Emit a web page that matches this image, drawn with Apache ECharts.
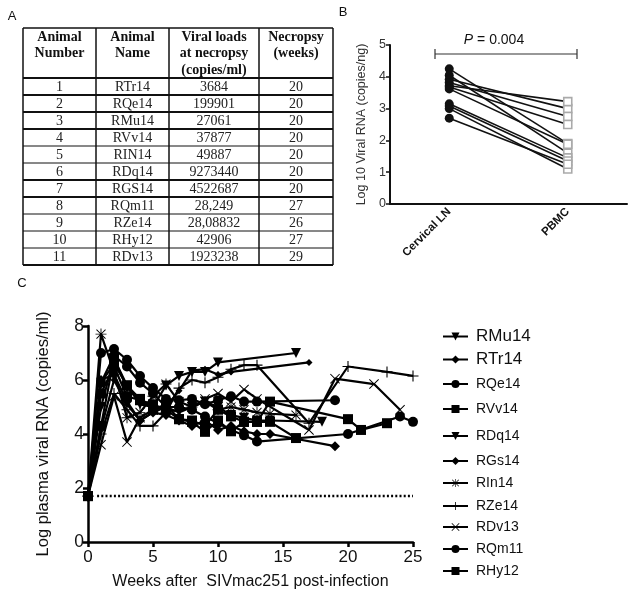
<!DOCTYPE html>
<html><head><meta charset="utf-8">
<script src="https://cdn.jsdelivr.net/npm/echarts@6/dist/echarts.min.js"></script>
<style>html,body{margin:0;padding:0;background:#fff}#c{width:635px;height:596px}</style>
</head><body><div id="c"></div>
<script>
// ---------- Panel A: table ----------
const tableHeader = [['Animal','Number'],['Animal','Name'],['Viral loads','at necropsy','(copies/ml)'],['Necropsy','(weeks)']];
const animalNumbers = ['1','2','3','4','5','6','7','8','9','10','11'];
const animalNames = ['RTr14','RQe14','RMu14','RVv14','RIN14','RDq14','RGS14','RQm11','RZe14','RHy12','RDv13'];
const viralLoads = ['3684','199901','27061','37877','49887','9273440','4522687','28,249','28,08832','42906','1923238'];
const necropsyWeeks = ['20','20','20','20','20','20','20','27','26','27','29'];

// ---------- Panel B ----------
const groups = ['Cervical LN','PBMC'];
const lnValues   = [4.25,4.05,3.92,3.82,3.72,3.68,3.62,3.15,3.08,3.00,2.70];
const pbmcValues = [1.90,1.60,3.00,2.75,3.22,2.50,1.88,1.45,1.35,1.10,1.25];
const pLabel = '0.004';

// ---------- Panel C ----------
const weeks = [0,1,2,3,4,5,6,7,8,9,10,11,12,13,14,16,17,18,19,20,21,22,23,24,25];
const _ = null;
const RMu14 = [1.7,5.0,6.8,5.7,5.3,5.0,5.8,6.15,6.3,6.3,6.65,_,_,_,_,7.0,_,_,_,_,_,_,_,_,_];
const RTr14 = [1.7,4.2,6.0,5.1,4.5,4.8,5.0,5.6,6.35,6.4,6.2,6.3,_,_,_,_,6.65,_,_,_,_,_,_,_,_];
const RQe14 = [1.7,7.0,7.15,6.75,6.15,5.7,5.3,5.25,5.3,5.1,5.25,5.4,5.2,5.2,_,_,_,_,5.25,_,_,_,_,_,_];
const RVv14 = [1.7,5.5,6.5,5.4,5.25,5.1,4.9,4.55,4.45,4.08,4.5,4.1,4.45,4.45,4.45,3.85,_,_,_,_,_,_,_,_,_];
const RDq14 = [1.7,5.9,6.6,5.8,5.1,5.0,4.9,4.85,5.0,5.2,5.0,4.7,4.6,4.5,4.5,_,_,4.45,_,_,_,_,_,_,_];
const RGs14 = [1.7,6.0,6.2,5.2,4.5,4.8,4.7,4.5,4.3,4.5,4.15,4.3,4.1,4.0,4.0,_,_,_,3.55,_,_,_,_,_,_];
const RIn14 = [1.7,7.7,6.3,4.6,4.8,5.4,5.85,5.2,5.0,5.2,4.9,5.0,4.9,4.8,4.75,4.7,_,_,_,_,_,_,_,_,_];
const RZe14 = [1.7,4.0,5.5,4.9,4.3,4.3,4.8,5.7,6.0,5.9,6.1,6.4,6.55,6.55,_,_,4.4,_,_,6.5,_,_,6.3,_,6.15];
const RDv13 = [1.7,3.6,5.4,3.7,4.6,4.9,5.0,4.8,5.0,5.3,5.5,5.2,5.65,5.3,_,_,4.15,_,6.05,_,_,5.85,_,4.9,_];
const RQm11 = [1.7,5.9,6.9,6.5,5.9,5.5,5.0,5.0,4.9,4.65,4.4,4.15,3.95,3.72,_,_,_,_,_,4.0,_,_,_,4.65,4.45];
const RHy12 = [1.7,4.3,6.8,5.8,5.3,4.9,5.1,4.55,4.5,4.3,4.9,4.65,4.45,4.45,5.2,_,_,_,_,4.55,4.15,_,4.4,_,_];
const seriesNames = ['RMu14','RTr14','RQe14','RVv14','RDq14','RGs14','RIn14','RZe14','RDv13','RQm11','RHy12'];
const seriesValues = [RMu14,RTr14,RQe14,RVv14,RDq14,RGs14,RIn14,RZe14,RDv13,RQm11,RHy12];
const limitWeeks = [0.7, 25];
const limitValue = 1.7;

// ---------- styles ----------
const PLUS = 'path://M9,0H11V9H20V11H11V20H9V11H0V9H9Z';
const XMARK = 'path://M1.4,0L10,8.6L18.6,0L20,1.4L11.4,10L20,18.6L18.6,20L10,11.4L1.4,20L0,18.6L8.6,10L0,1.4Z';
const STAR = 'path://M9.2,0H10.8V9.2H20V10.8H10.8V20H9.2V10.8H0V9.2H9.2Z M2.4,1.2L10,8.8L17.6,1.2L18.8,2.4L11.2,10L18.8,17.6L17.6,18.8L10,11.2L2.4,18.8L1.2,17.6L8.8,10L1.2,2.4Z';
const DOWNTRI = 'path://M0,0L20,0L10,18Z';
const symbolStyles = [
  {symbol: DOWNTRI, size: 10}, {symbol:'diamond', size: 7}, {symbol:'circle', size: 10},
  {symbol:'rect', size: 10}, {symbol: DOWNTRI, size: 10}, {symbol:'diamond', size: 10},
  {symbol: STAR, size: 11}, {symbol: PLUS, size: 11}, {symbol: XMARK, size: 10},
  {symbol:'circle', size: 10}, {symbol:'rect', size: 10}
];
const legendY = [332,355,381,406,433,458,480,503,524,546,568];
const legendFont = [17,17,14,14,14,14,14,14,14,14,14];
const SANS = 'Liberation Sans, Arial, sans-serif';
const SERIF = 'Liberation Serif, serif';

// ---------- table graphics ----------
const colX = [23,96,169,259,333];
const tableTop = 28, headBottom = 78, rowH = 17;
const graphics = [];
const nRows = animalNames.length;
const tableBottom = headBottom + rowH*nRows;
const thickAfter = [0,1,2,5,6];
for (let i=0;i<=nRows;i++){
  const y = headBottom + rowH*i;
  graphics.push({type:'line', shape:{x1:colX[0],y1:y,x2:colX[4],y2:y}, style:{stroke:'#111', lineWidth:(i===nRows||thickAfter.includes(i-1)||i===0)?1.8:1}});
}
graphics.push({type:'line', shape:{x1:colX[0],y1:tableTop,x2:colX[4],y2:tableTop}, style:{stroke:'#111', lineWidth:1.5}});
colX.forEach(x=>graphics.push({type:'line', shape:{x1:x,y1:tableTop,x2:x,y2:tableBottom}, style:{stroke:'#111', lineWidth:1.5}}));
tableHeader.forEach((lines,c)=>{
  const cx = (colX[c]+colX[c+1])/2;
  lines.forEach((t,k)=>graphics.push({type:'text', x:cx, y:37+k*16.5, style:{text:t, font:'bold 14px '+SERIF, fill:'#111', textAlign:'center', textVerticalAlign:'middle', align:'center', verticalAlign:'middle'}}));
});
const cols = [animalNumbers, animalNames, viralLoads, necropsyWeeks];
cols.forEach((arr,c)=>{
  const cx = (colX[c]+colX[c+1])/2;
  arr.forEach((t,r)=>graphics.push({type:'text', x:cx, y:headBottom+rowH*r+rowH/2+0.5, style:{text:t, font:'14px '+SERIF, fill:'#222', textAlign:'center', textVerticalAlign:'middle', align:'center', verticalAlign:'middle'}}));
});
// panel letters
[['A',12,16],['B',343,12],['C',22,283]].forEach(([t,x,y])=>graphics.push({type:'text', x, y, style:{text:t, font:'13px '+SANS, fill:'#111', textAlign:'center', textVerticalAlign:'middle', align:'center', verticalAlign:'middle'}}));
// P-value bracket
graphics.push({type:'line', shape:{x1:435,y1:54,x2:577,y2:54}, style:{stroke:'#333', lineWidth:1.2}});
graphics.push({type:'line', shape:{x1:435,y1:49,x2:435,y2:59}, style:{stroke:'#333', lineWidth:1.2}});
graphics.push({type:'line', shape:{x1:577,y1:49,x2:577,y2:59}, style:{stroke:'#333', lineWidth:1.2}});
graphics.push({type:'text', x:494, y:40, style:{text:'{i|P} = '+pLabel, rich:{i:{fontStyle:'italic', font:'italic 14px '+SANS, fill:'#111'}}, font:'14px '+SANS, fill:'#111', textAlign:'center', textVerticalAlign:'middle', align:'center', verticalAlign:'middle'}});

// ---------- series ----------
const series = [];
lnValues.forEach((v,i)=>{
  series.push({type:'line', xAxisIndex:0, yAxisIndex:0, silent:true, z:3,
    lineStyle:{color:'#111', width:1.6},
    data:[{value:v, symbol:'circle', symbolSize:9, itemStyle:{color:'#111'}},
          {value:pbmcValues[i], symbol:'rect', symbolSize:8, itemStyle:{color:'#fff', borderColor:'#aaa', borderWidth:1.6}}]});
});
seriesNames.forEach((name,i)=>{
  const data = weeks.map((w,k)=>[w, seriesValues[i][k]]).filter(d=>d[1]!==null);
  series.push({type:'line', name, xAxisIndex:1, yAxisIndex:1, silent:true,
    symbol: symbolStyles[i].symbol, symbolSize: symbolStyles[i].size, showAllSymbol:true,
    itemStyle:{color:'#000'}, lineStyle:{color:'#000', width:2.2}, data});
});
series.push({type:'line', xAxisIndex:1, yAxisIndex:1, silent:true, symbol:'none',
  lineStyle:{color:'#000', width:2.5, type:[2,2.2]}, data: limitWeeks.map(w=>[w, limitValue])});

const legends = seriesNames.map((name,i)=>({
  data:[name], left:437, top: legendY[i]-9, height: 18, itemWidth:25, itemHeight:10,
  selectedMode:false, textStyle:{fontSize:legendFont[i], color:'#111', fontFamily:SANS, padding:[0,0,0,3]}
}));

const option = {
  animation:false,
  backgroundColor:'#fff',
  graphic: graphics,
  legend: legends,
  grid:[
    {left:390, top:45, width:237, height:159},
    {left:88, top:326, width:325, height:216}
  ],
  xAxis:[
    {type:'category', gridIndex:0, data:groups,
     axisLine:{lineStyle:{color:'#111', width:2}}, axisTick:{alignWithLabel:true, length:4, lineStyle:{color:'#111', width:1.5}},
     axisLabel:{rotate:45, fontWeight:'bold', fontSize:11.5, color:'#111', fontFamily:SANS, margin:6}},
    {type:'value', gridIndex:1, min:0, max:25, interval:5,
     name:'Weeks after  SIVmac251 post-infection', nameLocation:'middle', nameGap:32,
     nameTextStyle:{fontSize:16, color:'#111', fontFamily:SANS},
     axisLine:{lineStyle:{color:'#000', width:2.5}}, axisTick:{length:5, lineStyle:{color:'#000', width:2.5}},
     axisLabel:{fontSize:17, color:'#111', fontFamily:SANS, margin:7}, splitLine:{show:false}}
  ],
  yAxis:[
    {type:'value', gridIndex:0, min:0, max:5, interval:1,
     name:'Log 10 Viral RNA (copies/ng)', nameLocation:'middle', nameGap:22,
     nameTextStyle:{fontSize:12.5, color:'#333', fontFamily:SANS},
     axisLine:{show:true, lineStyle:{color:'#111', width:2}}, axisTick:{show:true, length:4, lineStyle:{color:'#111', width:1.5}},
     axisLabel:{fontSize:12.5, color:'#333', fontFamily:SANS, margin:4}, splitLine:{show:false}},
    {type:'value', gridIndex:1, min:0, max:8, interval:2,
     name:'Log plasma viral RNA (copies/ml)', nameLocation:'middle', nameGap:36,
     nameTextStyle:{fontSize:16.5, color:'#111', fontFamily:SANS},
     axisLine:{show:true, lineStyle:{color:'#000', width:2.5}}, axisTick:{show:true, length:5, lineStyle:{color:'#000', width:2.5}},
     axisLabel:{fontSize:17.5, color:'#111', fontFamily:SANS, margin:4}, splitLine:{show:false}}
  ],
  series
};
const chart = echarts.init(document.getElementById('c'), null, {renderer:'canvas'});
chart.setOption(option);
</script></body></html>
